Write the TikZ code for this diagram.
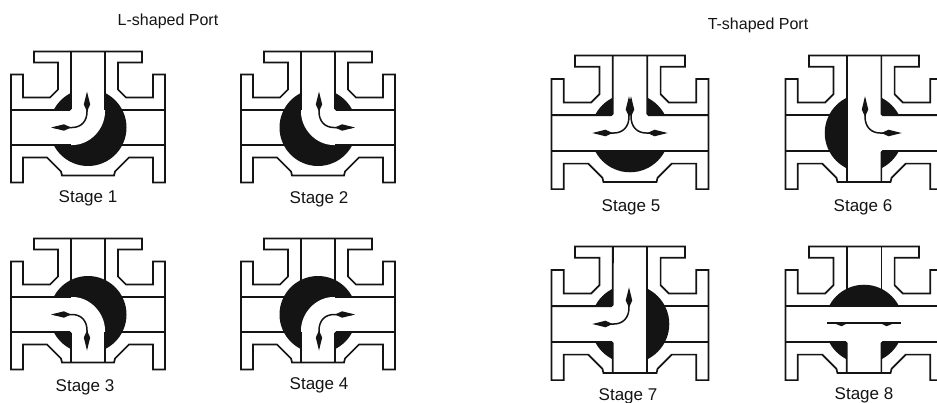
\documentclass[tikz,border=0pt]{standalone}
\usepackage{fontspec}
\setmainfont{Liberation Sans}
\definecolor{ink}{HTML}{141414}
\tikzset{
  wall/.style={draw=ink,line width=1.7pt,line join=miter},
  inner wall/.style={draw=ink,line width=1.7pt,rounded corners=1.5pt},
  ball/.style={fill=ink},
  port/.style={fill=white,rounded corners=1.5pt},
  flowline/.style={draw=ink,line width=1.5pt},
  flowhead/.style={fill=ink},
  caption/.style={font=\fontsize{17}{19}\selectfont,text=ink,inner sep=0pt,anchor=center},
  title/.style={font=\fontsize{16}{18}\selectfont,text=ink,inner sep=0pt,anchor=center},
}
\newcommand{\valvebody}{%
  \draw[wall] (-54,-76) -- (54,-76) -- (54,-65) -- (30,-65) -- (30,-38) -- (38,-30) -- (65,-30) -- (65,-53) -- (77,-53) -- (77,55) -- (65,55) -- (65,30) -- (41,30) -- (27,44) -- (26,48) -- (-26,48) -- (-27,44) -- (-41,30) -- (-65,30) -- (-65,55) -- (-77,55) -- (-77,-53) -- (-65,-53) -- (-65,-30) -- (-38,-30) -- (-30,-38) -- (-30,-65) -- (-54,-65) -- cycle;
}
\newcommand{\allwalls}{%
  \draw[wall] (-17,-76) -- (-17,-20) (17,-76) -- (17,-20);
  \draw[wall] (-77,-17.5) -- (-25,-17.5) (25,-17.5) -- (77,-17.5);
  \draw[wall] (-77,17.5) -- (-25,17.5) (25,17.5) -- (77,17.5);
  \fill[ball] (0,0) circle (38.5);
}
% flow of an L-shaped port, from the upper branch to the left branch
\newcommand{\flowL}{%
  \draw[flowline] (-1,-33) -- (-1,-16) .. controls (-1,-6) and (-7,0) .. (-16,0) -- (-34,0);
  \fill[flowhead] (-1,-36) -- (-4.2,-23) -- (-1,-16) -- (2.2,-23) -- cycle;
  \fill[flowhead] (-37,0) -- (-24,-3.2) -- (-17,0) -- (-24,3.2) -- cycle;
}
% L-shaped port joining left branch and the branch whose wall ends at #1
\newcommand{\portL}[1]{%
  \fill[port] (-17,-#1) -- (-17,-17.5) -- (-60,-17.5) -- (-60,17.5) -- (-17,17.5) .. controls (1.8,17.5) and (17,1.8) .. (17,-17.5) -- (17,-#1) -- cycle;
  \draw[inner wall] (-77,-17.5) -- (-17,-17.5) -- (-17,-#1);
  \draw[wall] (-77,17.5) -- (-17,17.5);
  \draw[wall] (17,-#1) -- (17,-17.5);
  \flowL
}
% T-shaped port: left, right and the branch whose wall ends at #1
\newcommand{\portTh}[1]{%
  \fill[port] (-17,-#1) -- (-17,-17.5) -- (-60,-17.5) -- (-60,17.5) -- (60,17.5) -- (60,-17.5) -- (17,-17.5) -- (17,-#1) -- cycle;
  \draw[inner wall] (-77,-17.5) -- (-17,-17.5) -- (-17,-#1);
  \draw[inner wall] (77,-17.5) -- (17,-17.5) -- (17,-#1);
  \draw[wall] (-77,17.5) -- (77,17.5);
}
% T-shaped port: top, bottom and left
\newcommand{\portTv}{%
  \fill[port] (17,-60) -- (17,47) -- (-17,47) -- (-17,17.5) -- (-60,17.5) -- (-60,-17.5) -- (-17,-17.5) -- (-17,-60) -- cycle;
  \draw[wall] (17,-76) -- (17,48);
  \draw[inner wall] (-77,-17.5) -- (-17,-17.5) -- (-17,-76);
  \draw[inner wall] (-77,17.5) -- (-17,17.5) -- (-17,48);
  \flowL
}
\begin{document}
\begin{tikzpicture}[x=1pt,y=-1pt]
\clip (0,0) rectangle (937,402);
\fill[white] (0,0) rectangle (937,402);
% L-shaped port
\begin{scope}[shift={(88,127.5)}]
  \allwalls \portL{76} \valvebody
\end{scope}
\begin{scope}[shift={(318,127.5)}]
  \allwalls \begin{scope}[xscale=-1]\portL{76}\end{scope} \valvebody
\end{scope}
\begin{scope}[shift={(88,314.5)}]
  \allwalls \begin{scope}[yscale=-1]\portL{48}\end{scope} \valvebody
\end{scope}
\begin{scope}[shift={(318,314.5)}]
  \allwalls \begin{scope}[xscale=-1,yscale=-1]\portL{48}\end{scope} \valvebody
\end{scope}
% T-shaped port
\begin{scope}[shift={(630,133)},scale=1.02]
  \allwalls \portTh{76} \flowL
  \begin{scope}[xscale=-1]\flowL\end{scope}
  \valvebody
\end{scope}
\begin{scope}[shift={(864,133)},scale=1.02]
  \allwalls \begin{scope}[xscale=-1]\portTv\end{scope} \valvebody
\end{scope}
\begin{scope}[shift={(630,324)},scale=1.02]
  \allwalls \portTv \valvebody
\end{scope}
\begin{scope}[shift={(864,324)},scale=1.02]
  \allwalls
  \begin{scope}[yscale=-1]\portTh{48}\end{scope}
  \draw[flowline] (-36,-1) -- (36,-1);
  \fill[flowhead] (-30,-1) -- (-22,2.2) -- (-16,-1) -- cycle;
  \fill[flowhead] (30,-1) -- (22,2.2) -- (16,-1) -- cycle;
  \valvebody
\end{scope}
% captions
\node[title] (t1) at (168,21) {L-shaped Port};
\node[title] (t2) at (758,25) {T-shaped Port};
\node[caption] (s1) at (88,198) {Stage 1};
\node[caption] (s2) at (319,199) {Stage 2};
\node[caption] (s3) at (85,387) {Stage 3};
\node[caption] (s4) at (319,385) {Stage 4};
\node[caption] (s5) at (631,207) {Stage 5};
\node[caption] (s6) at (863,207) {Stage 6};
\node[caption] (s7) at (628,396) {Stage 7};
\node[caption] (s8) at (864,395) {Stage 8};
\end{tikzpicture}
\end{document}
